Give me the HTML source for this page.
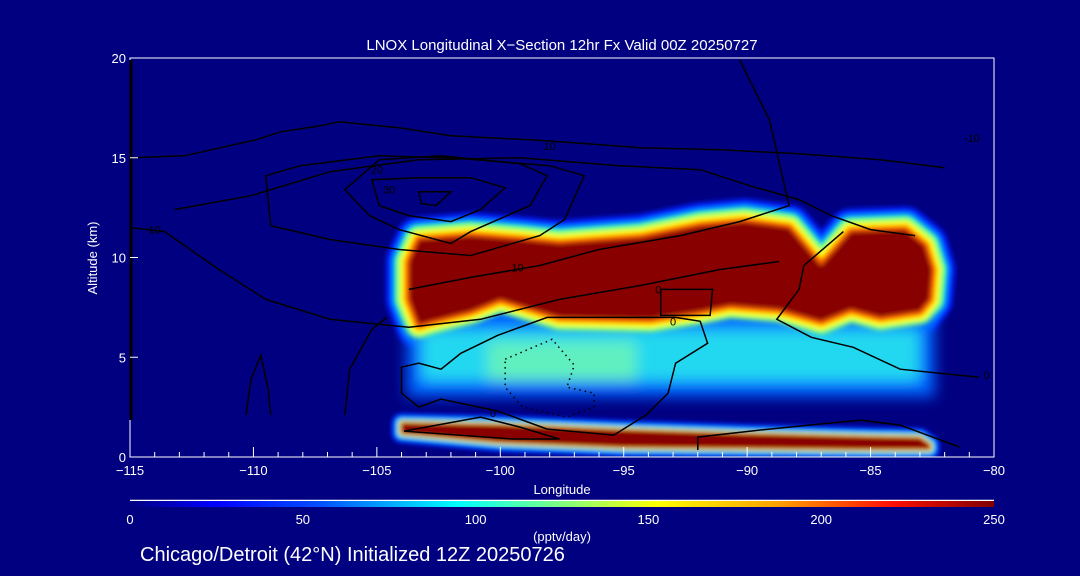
<!DOCTYPE html>
<html><head><meta charset="utf-8">
<style>
html,body{margin:0;padding:0;background:#000080;}
svg{display:block;}
text{font-family:"Liberation Sans",sans-serif;fill:#fff;}
</style></head>
<body>
<svg id="chart" width="1080" height="576" viewBox="0 0 1080 576">
<defs>
<linearGradient id="cbar" x1="0" x2="1" y1="0" y2="0">
<stop offset="0" stop-color="#000080"/>
<stop offset="0.1" stop-color="#0000ff"/>
<stop offset="0.22" stop-color="#0050ff"/>
<stop offset="0.38" stop-color="#00ffff"/>
<stop offset="0.5" stop-color="#80ff80"/>
<stop offset="0.61" stop-color="#ffff00"/>
<stop offset="0.75" stop-color="#ffa000"/>
<stop offset="0.88" stop-color="#ff1000"/>
<stop offset="1" stop-color="#800000"/>
</linearGradient>
<filter id="blur2" filterUnits="userSpaceOnUse" x="0" y="0" width="1080" height="576"><feGaussianBlur stdDeviation="2.5"/></filter>
<filter id="blur6" filterUnits="userSpaceOnUse" x="0" y="0" width="1080" height="576"><feGaussianBlur stdDeviation="7"/></filter>
<clipPath id="plotclip"><rect x="130" y="58" width="864" height="399"/></clipPath>
</defs>
<text x="562" y="50" text-anchor="middle" font-size="15">LNOX Longitudinal X−Section 12hr  Fx Valid 00Z 20250727</text>
<g id="field" clip-path="url(#plotclip)"></g>
<g id="contours" clip-path="url(#plotclip)"></g>
<rect x="130" y="58" width="864" height="399" fill="none" stroke="#fff" stroke-width="1"/>
<line x1="131" y1="60" x2="131" y2="420" stroke="#000" stroke-width="3"/>
<g id="axes"></g>
<text x="562" y="494" text-anchor="middle" font-size="13">Longitude</text>
<text transform="translate(97,258) rotate(-90)" text-anchor="middle" font-size="13">Altitude (km)</text>
<line x1="130" y1="500.5" x2="994" y2="500.5" stroke="#fff" stroke-width="1.5"/>
<rect x="130" y="501" width="864" height="6" fill="url(#cbar)"/>
<g id="cbticks"></g>
<text x="562" y="541" text-anchor="middle" font-size="13">(pptv/day)</text>
<text x="140" y="561" font-size="20">Chicago/Detroit (42°N) Initialized 12Z 20250726</text>
</svg>
<script>
// axis ranges
const lonMin=-115, lonMax=-80, altMin=0, altMax=20;
const xTicks=[-115,-110,-105,-100,-95,-90,-85,-80];
const yTicks=[0,5,10,15,20];
const cbTicks=[0,50,100,150,200,250];
// upper LNOX band (lon, top alt, bottom alt)
const upperTopLon=[-103.7,-103.3,-101.2,-99.2,-97.6,-94.3,-91.9,-90.1,-88.3,-87.0,-85.8,-83.6,-82.8,-82.5,-82.6];
const upperTopAlt=[9.8,10.9,11.1,10.9,10.7,11.0,11.6,11.8,11.5,9.6,11.3,11.4,10.6,9.4,7.9];
const upperBotLon=[-83.0,-84.6,-85.8,-87.0,-88.7,-90.7,-91.9,-93.9,-97.6,-99.2,-100.0,-101.2,-102.8,-103.3,-103.7];
const upperBotAlt=[7.3,7.0,7.4,6.8,7.4,7.6,7.3,6.9,7.0,7.6,7.9,7.3,6.8,6.6,7.9];
// middle moderate region
const midLon=[-103.8,-82.4];
const midAlt=[3.0,7.6];
const cyanLon=[-103.2,-83.0];
const cyanAlt=[3.8,6.4];
const greenLon=[-100.5,-94.5];
const greenAlt=[3.8,5.8];
// lower LNOX band
const lowLon=[-104.0,-100,-95,-90,-85,-83.0,-82.6];
const lowTop=[1.7,1.6,1.35,1.15,1.0,0.95,0.6];
const lowBot=[1.2,0.75,0.5,0.45,0.4,0.4,0.4];
// contours [lon,alt]
const ringInner=[[-103.3,13.3],[-102.0,13.3],[-102.6,12.6],[-103.2,12.7]];
const ring30=[[-105.2,13.9],[-103.3,14.0],[-101.2,14.0],[-99.8,13.5],[-100.8,12.4],[-102.0,11.8],[-103.7,12.1],[-104.9,12.6]];
const ring20=[[-106.3,13.4],[-104.9,14.9],[-102.4,15.1],[-99.2,14.7],[-98.1,14.1],[-98.8,12.6],[-101.2,11.3],[-102.0,10.7],[-104.1,11.4],[-105.3,12.1]];
const ring10=[[-109.5,14.1],[-108.1,14.6],[-104.9,15.1],[-102.0,15.0],[-98.0,14.6],[-96.6,14.1],[-97.4,11.9],[-98.4,11.1],[-101.2,10.1],[-104.1,10.4],[-106.9,10.9],[-109.3,11.6]];
const lineTop=[[-115,15.0],[-112.8,15.1],[-109.9,15.9],[-108.9,16.3],[-107.3,16.6],[-106.5,16.8],[-104.1,16.5],[-102.0,16.1],[-98.8,15.9],[-97.6,15.8],[-94.3,15.5],[-91.1,15.4],[-87.9,15.2],[-84.6,14.9],[-82.0,14.5]];
const lineOuter10=[[-113.2,12.4],[-110.1,13.1],[-106.9,14.3],[-103.3,14.9],[-99.2,15.0],[-95.2,14.6],[-91.9,14.4],[-89.9,13.6],[-87.9,12.9],[-86.6,12.1],[-85.0,11.4],[-83.2,11.1]];
const lineLeft10=[[-115,11.5],[-113.6,11.3],[-111.4,9.4],[-109.5,7.9],[-106.9,6.9],[-103.7,6.5],[-100.8,6.9],[-97.6,7.9],[-94.3,8.6],[-91.1,9.4],[-88.7,9.8]];
const lineBand10=[[-103.7,8.4],[-101.2,9.0],[-98.4,9.6],[-96.0,10.4],[-92.7,11.1],[-90.3,11.8],[-88.3,12.6],[-89.1,16.9],[-89.5,17.9],[-90.3,19.9]];
const zero0=[[-104.0,4.5],[-103.3,4.7],[-102.4,4.4],[-101.6,5.2],[-100.1,6.1],[-98.1,7.0],[-95.4,7.0],[-94.2,7.0],[-92.9,7.0],[-91.9,6.8],[-91.6,5.7],[-92.9,4.7],[-93.2,3.2],[-94.1,2.1],[-95.4,1.1],[-98.1,1.4],[-100.1,2.3],[-102.4,2.9],[-103.3,2.5],[-104.0,3.2]];
const dotted=[[-99.8,4.9],[-97.9,5.9],[-97.0,4.6],[-97.3,3.5],[-96.2,3.2],[-96.2,2.5],[-97.3,2.0],[-99.1,2.5],[-99.8,3.5]];
const rightLine=[[-86.1,11.3],[-87.7,9.6],[-87.9,8.4],[-88.8,6.9],[-87.4,6.0],[-85.7,5.5],[-83.8,4.4],[-80.6,4.0]];
const boxZero=[[-93.5,8.4],[-93.5,7.1],[-91.5,7.1],[-91.4,8.4],[-93.5,8.4]];
const lowRight=[[-92.0,0.35],[-92.0,1.0],[-89.5,1.35],[-87.5,1.6],[-85.4,1.85],[-83.8,1.6],[-81.4,0.5]];
const lowLeft=[[-103.9,1.3],[-100.8,2.0],[-99.2,1.5],[-97.6,0.9],[-99.5,0.9],[-103.9,1.3]];
const leftSpike=[[-110.3,2.1],[-110.1,3.9],[-109.7,5.1],[-109.4,3.4],[-109.3,2.1]];
const leftSpike2=[[-106.3,2.1],[-106.1,4.4],[-105.2,6.4],[-104.6,7.0]];
const labelText=["10","20","30","10","10","0","0","0","-10","0"];
const labelLon=[-114.0,-105.0,-104.5,-98.0,-99.3,-93.6,-93.0,-100.3,-80.9,-80.3];
const labelAlt=[11.4,14.4,13.4,15.6,9.5,8.4,6.8,2.2,16.0,4.1];

const X0=130,X1=994,Y0=457,Y1=58;
const xs=v=>X0+(v-lonMin)/(lonMax-lonMin)*(X1-X0);
const ys=v=>Y0-(v-altMin)/(altMax-altMin)*(Y0-Y1);
const NS="http://www.w3.org/2000/svg";
function mk(tag,parent){const e=document.createElementNS(NS,tag);parent.appendChild(e);return e;}
function pts(arr){return arr.map(p=>xs(p[0]).toFixed(1)+","+ys(p[1]).toFixed(1)).join(" ");}
function zipPts(lon,alt){return lon.map((l,i)=>[l,alt[i]]);}

const field=document.getElementById('field');
function halo(parent,poly,cols,widths,name){
  widths.forEach((w,i)=>{
    const p=mk('polygon',parent);
    
    
    p.setAttribute('points',poly);p.setAttribute('fill',cols[i]);
    p.setAttribute('stroke',cols[i]);p.setAttribute('stroke-width',w);p.setAttribute('stroke-linejoin','round');
  });
}
function core(parent,poly,name){
  const p=mk('polygon',parent);
  
  
  p.setAttribute('points',poly);p.setAttribute('fill','#880000');
}
const upperPoly=pts(zipPts(upperTopLon,upperTopAlt).concat(zipPts(upperBotLon,upperBotAlt)));
// upper band outer halo (blue/cyan)
let gU=mk('g',field);gU.setAttribute('filter','url(#blur2)');
halo(gU,upperPoly,['#0020ff','#00a0ff','#30ffd0'],[46,34,24],'upper-lnox-band-outer');

// middle region
let g=mk('g',field);g.setAttribute('filter','url(#blur6)');
function rect(parent,lon,alt,fill,name){
  const r=mk('rect',parent);
  
  
  r.setAttribute('x',xs(lon[0]));r.setAttribute('width',xs(lon[1])-xs(lon[0]));
  r.setAttribute('y',ys(alt[1]));r.setAttribute('height',ys(alt[0])-ys(alt[1]));
  r.setAttribute('fill',fill);
}
rect(g,midLon,midAlt,'#0060ff','mid-blue-region');
rect(g,cyanLon,cyanAlt,'#20d8f0','mid-cyan-region');
rect(g,greenLon,greenAlt,'#60f0c0','mid-green-patch');

// upper band inner halo + core
let gU2=mk('g',field);gU2.setAttribute('filter','url(#blur2)');
halo(gU2,upperPoly,['#80ff80','#ffff00','#ff6000'],[26,18,9],'upper-lnox-band-inner');
core(gU2,upperPoly,'upper-lnox-band');

// lower band
const lowPoly=pts(zipPts(lowLon,lowTop).concat(zipPts(lowLon,lowBot).reverse()));
let gL=mk('g',field);gL.setAttribute('filter','url(#blur2)');
halo(gL,lowPoly,['#0020ff','#00a0ff','#30ffd0','#ffff00','#ff6000'],[20,13,8,5,3],'lower-lnox-band');
core(gL,lowPoly,'lower-lnox-band');

// contours
const cg=document.getElementById('contours');
function contour(arr,closed,name,dash){
  const p=mk(closed?'polygon':'polyline',cg);
  
  
  p.setAttribute('points',pts(arr));p.setAttribute('fill','none');
  p.setAttribute('stroke','#000');p.setAttribute('stroke-width','1.5');
  if(dash)p.setAttribute('stroke-dasharray','1.5,4');
}
contour(ringInner,true,'contour-inner');
contour(ring30,true,'contour-30');
contour(ring20,true,'contour-20');
contour(ring10,true,'contour-10-ring');
contour(lineTop,false,'contour-top');
contour(lineOuter10,false,'contour-outer-10');
contour(lineLeft10,false,'contour-left-10');
contour(lineBand10,false,'contour-band-10');
contour(zero0,true,'contour-zero');
contour(dotted,true,'contour-negative',true);
contour(rightLine,false,'contour-right');
contour(boxZero,false,'contour-zero-box');
contour(lowRight,false,'contour-low-right');
contour(lowLeft,false,'contour-low-left');
contour(leftSpike,false,'contour-left-spike');
contour(leftSpike2,false,'contour-left-spike-2');
labelText.forEach((t,i)=>{
  const tx=mk('text',cg);
  
  
  tx.setAttribute('x',xs(labelLon[i]));tx.setAttribute('y',ys(labelAlt[i])+4);
  tx.setAttribute('font-size','11');tx.setAttribute('text-anchor','middle');
  tx.setAttribute('style','fill:#000');tx.textContent=t;
});

// axes
const ax=document.getElementById('axes');
for(let v=lonMin;v<=lonMax;v++){
  const l=mk('line',ax);
  
  
  const major=xTicks.includes(v);
  l.setAttribute('x1',xs(v));l.setAttribute('x2',xs(v));l.setAttribute('y1',Y0);l.setAttribute('y2',Y0-(major?10:5));
  l.setAttribute('stroke','#fff');
}
xTicks.forEach(v=>{
  const t=mk('text',ax);
  
  
  t.setAttribute('x',xs(v));t.setAttribute('y',475);t.setAttribute('font-size','13');t.setAttribute('text-anchor','middle');
  t.textContent=v<0?'−'+(-v):v;
});
yTicks.forEach(v=>{
  const t=mk('text',ax);
  
  
  t.setAttribute('x',126);t.setAttribute('y',ys(v)+5);t.setAttribute('font-size','13');t.setAttribute('text-anchor','end');
  t.textContent=v;
  const l=mk('line',ax);
  
  
  l.setAttribute('x1',X0);l.setAttribute('x2',X0+8);l.setAttribute('y1',ys(v));l.setAttribute('y2',ys(v));l.setAttribute('stroke','#fff');
});
const cbg=document.getElementById('cbticks');
cbTicks.forEach(v=>{
  const t=mk('text',cbg);
  
  
  t.setAttribute('x',X0+v/250*(X1-X0));t.setAttribute('y',524);t.setAttribute('font-size','13');t.setAttribute('text-anchor','middle');
  t.textContent=v;
});
</script>
</body></html>
